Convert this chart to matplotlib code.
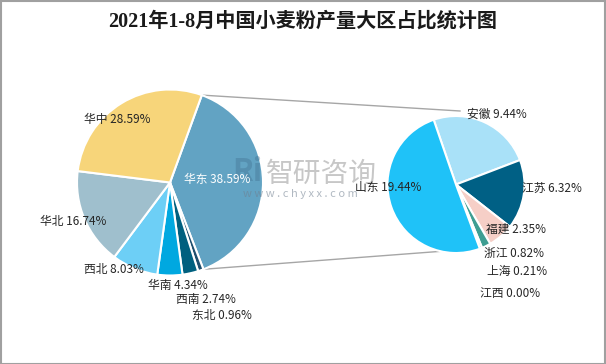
import matplotlib
matplotlib.use("Agg")
import matplotlib.pyplot as plt
import numpy as np

plt.rcParams['font.family'] = ['Noto Sans CJK SC', 'DejaVu Sans']

title = "2021年1-8月中国小麦粉产量大区占比统计图"

# Left pie (regions), clockwise from the top split
left_labels = ["华东", "东北", "西南", "华南", "西北", "华北", "华中"]
left_values = [38.59, 0.96, 2.74, 4.34, 8.03, 16.74, 28.59]
left_colors = ["#62A3C3", "#1F4F6E", "#00607F", "#00A8E0", "#6DCFF6", "#9FBFCD", "#F7D57A"]

# Right pie (breakdown of 华东), clockwise
right_labels = ["安徽", "江苏", "福建", "浙江", "上海", "江西", "山东"]
right_values = [9.44, 6.32, 2.35, 0.82, 0.21, 0.00, 19.44]
right_colors = ["#A9E1F8", "#006085", "#F6CFC7", "#3E9E92", "#3E9E92", "#C8C8C8", "#1FC2F8"]

W, H = 606, 364
fig = plt.figure(figsize=(W / 100, H / 100), dpi=100)
ax = fig.add_axes([0, 0, 1, 1])

def py(y):
    return H - y

LC, LR = (170, py(182.5)), 93
RC, RR = (456, py(184.5)), 68.5

lw, _ = ax.pie(left_values, colors=left_colors, startangle=70, counterclock=False,
               center=LC, radius=LR, frame=True,
               wedgeprops=dict(edgecolor="white", linewidth=1.5))
rv = [v if v > 0 else 1e-9 for v in right_values]
explode = [0, 0, 0, 0, 0, 0, 0.03]
rw, _ = ax.pie(rv, colors=right_colors, startangle=109, counterclock=False,
               center=RC, radius=RR, frame=True, explode=explode,
               wedgeprops=dict(edgecolor="white", linewidth=1.5))

# connector lines from the split edges of 华东
t_top = np.deg2rad(lw[0].theta2)
t_bot = np.deg2rad(lw[0].theta1)
p_top = (LC[0] + LR * np.cos(t_top), LC[1] + LR * np.sin(t_top))
p_bot = (LC[0] + LR * np.cos(t_bot), LC[1] + LR * np.sin(t_bot))
ax.plot([p_top[0], 460], [p_top[1], py(111)], color="#A6A6A6", lw=1, zorder=0.5)
ax.plot([p_bot[0], 445], [p_bot[1], py(251)], color="#A6A6A6", lw=1, zorder=0.5)

# watermark
ax.text(266, py(174), "智研咨询", fontsize=20, color="#9A9A9A", alpha=0.55,
        ha="left", va="center", zorder=5)
ax.text(232, py(172), "Ri", fontsize=22, color="#3D6A8A", alpha=0.35,
        ha="left", va="center", fontweight="bold", zorder=5)
ax.text(300, py(194), "w w w . c h y x x . c o m", fontsize=8, color="#6F7F8F",
        alpha=0.55, ha="center", va="center", zorder=5)

# left labels
left_pos = {"华东": (184, 180), "华中": (84, 120), "华北": (40, 222), "西北": (84, 270),
            "华南": (148, 286), "西南": (176, 300), "东北": (192, 315)}
for lab, v in zip(left_labels, left_values):
    x, y = left_pos[lab]
    c = "white" if lab == "华东" else "#262626"
    ax.text(x, py(y), f"{lab} {v:.2f}%", fontsize=8.5, color=c, ha="left",
            va="center", zorder=6)

right_pos = {"安徽": (467, 114), "江苏": (522, 188), "山东": (355, 188), "福建": (486, 229),
             "浙江": (484, 253), "上海": (487, 271), "江西": (480, 294)}
for lab, v in zip(right_labels, right_values):
    x, y = right_pos[lab]
    ax.text(x, py(y), f"{lab} {v:.2f}%", fontsize=8.5, color="#262626", ha="left",
            va="center", zorder=6)

ax.text(W / 2, py(22), title, fontsize=14.5, color="#1a1a1a", ha="center", va="center",
        family=["Liberation Serif", "Noto Sans CJK SC"], fontweight="bold")

ax.set_xlim(0, W)
ax.set_ylim(0, H)
ax.set_aspect("equal")
ax.axis("off")

border = plt.Rectangle((0.5, 0.5), W - 1.5, H - 1.5, fill=False, edgecolor="#A0A0A0",
                       lw=1.5, zorder=10)
ax.add_patch(border)

fig.savefig("out.png", dpi=100)
